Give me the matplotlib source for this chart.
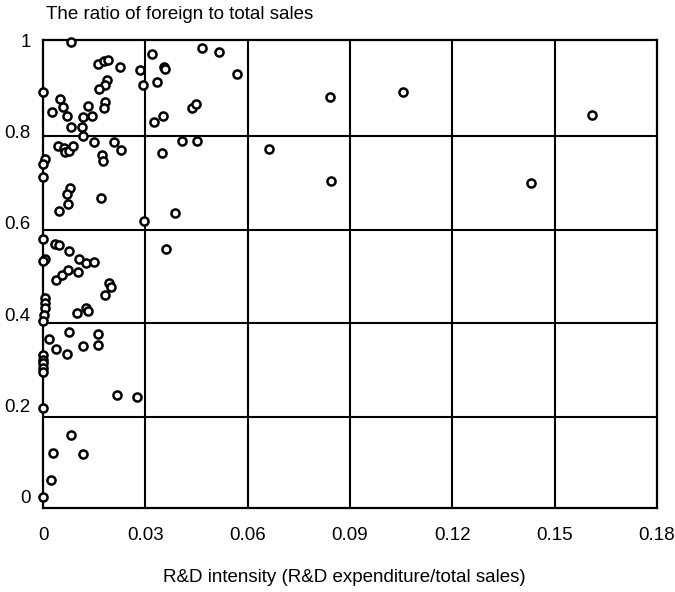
import matplotlib
matplotlib.use("Agg")
import matplotlib.pyplot as plt

plt.rcParams["font.family"] = ["Liberation Sans", "DejaVu Sans"]

# R&D intensity (x) and foreign/total sales ratio (y)
rd_intensity = [
    0.0082, 0.0, 0.0162, 0.0179, 0.0190, 0.0226, 0.0284, 0.0187, 0.0182, 0.0164,
    0.0050, 0.0057, 0.0025, 0.0069, 0.0131, 0.0182, 0.0177, 0.0118, 0.0143, 0.0082,
    0.0113, 0.0116, 0.0319, 0.0467, 0.0517, 0.0568, 0.0355, 0.0356, 0.0333, 0.0292,
    0.0436, 0.0449, 0.0351, 0.0325, 0.0044, 0.0061, 0.0064, 0.0076, 0.0087, 0.0150,
    0.0209, 0.0229, 0.0172, 0.0174, 0.0006, 0.0, 0.0, 0.0079, 0.0071, 0.0170,
    0.0072, 0.0047, 0.0296, 0.0387, 0.0348, 0.0407, 0.0451, 0.0663, 0.0844, 0.0360,
    0.0841, 0.1055, 0.1610, 0.1430, 0.0, 0.0035, 0.0045, 0.0077, 0.0006, 0.0,
    0.0106, 0.0126, 0.0148, 0.0038, 0.0055, 0.0072, 0.0103, 0.0193, 0.0199, 0.0182,
    0.0006, 0.0006, 0.0004, 0.0003, 0.0, 0.0099, 0.0126, 0.0130, 0.0076, 0.0160,
    0.0018, 0.0037, 0.0116, 0.0160, 0.0069, 0.0, 0.0, 0.0, 0.0, 0.0,
    0.0216, 0.0275, 0.0, 0.0082, 0.0028, 0.0116, 0.0023, 0.0,
]
foreign_ratio = [
    0.996, 0.886, 0.949, 0.955, 0.956, 0.942, 0.934, 0.914, 0.903, 0.894,
    0.872, 0.854, 0.843, 0.834, 0.856, 0.865, 0.852, 0.832, 0.834, 0.810,
    0.809, 0.790, 0.971, 0.984, 0.975, 0.926, 0.942, 0.936, 0.909, 0.902,
    0.852, 0.861, 0.834, 0.820, 0.768, 0.765, 0.756, 0.758, 0.768, 0.777,
    0.777, 0.759, 0.748, 0.735, 0.741, 0.730, 0.701, 0.677, 0.663, 0.655,
    0.641, 0.626, 0.605, 0.621, 0.754, 0.779, 0.780, 0.761, 0.691, 0.544,
    0.876, 0.886, 0.836, 0.687, 0.564, 0.554, 0.551, 0.539, 0.522, 0.517,
    0.521, 0.513, 0.514, 0.476, 0.487, 0.497, 0.492, 0.468, 0.459, 0.442,
    0.435, 0.424, 0.413, 0.398, 0.386, 0.403, 0.413, 0.407, 0.362, 0.357,
    0.345, 0.325, 0.331, 0.333, 0.312, 0.311, 0.301, 0.293, 0.283, 0.274,
    0.223, 0.219, 0.195, 0.136, 0.096, 0.094, 0.037, 0.0,
]

x_ticks = [0, 0.03, 0.06, 0.09, 0.12, 0.15, 0.18]
x_labels = ["0", "0.03", "0.06", "0.09", "0.12", "0.15", "0.18"]
y_ticks = [0, 0.2, 0.4, 0.6, 0.8, 1.0]
y_labels = ["0", "0.2", "0.4", "0.6", "0.8", "1"]
# the printed grid sits a little below the tick labels in the original
h_grid = [0.175, 0.38, 0.585, 0.79]

fig = plt.figure(figsize=(6.75, 5.92), dpi=100)
ax = fig.add_axes([0.064, 0.142, 0.909, 0.790])

for xv in x_ticks[1:-1]:
    ax.axvline(xv, color="black", lw=1.5, zorder=1)
for yv in h_grid:
    ax.axhline(yv, color="black", lw=1.5, zorder=1)

ax.scatter(rd_intensity, foreign_ratio, s=34, facecolor="white",
           edgecolor="black", linewidths=1.8, zorder=3, clip_on=False)

ax.set_xlim(0, 0.18)
ax.set_ylim(-0.024, 1.0)
ax.set_xticks(x_ticks)
ax.set_xticklabels(x_labels)
ax.set_yticks(y_ticks)
ax.set_yticklabels(y_labels)
ax.tick_params(length=0, labelsize=13.5)
ax.tick_params(axis="x", pad=14)
ax.tick_params(axis="y", pad=9)
for sp in ax.spines.values():
    sp.set_linewidth(1.6)

fig.text(0.068, 0.975, "The ratio of foreign to total sales", fontsize=13.5,
         ha="left", va="center")
fig.text(0.51, 0.025, "R&D intensity (R&D expenditure/total sales)",
         fontsize=13.5, ha="center", va="center")

fig.savefig("out.png", dpi=100)
